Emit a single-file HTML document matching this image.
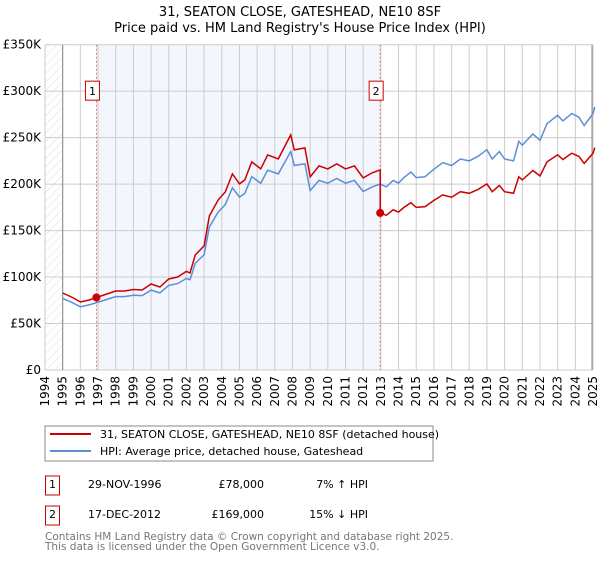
<!DOCTYPE html>
<html><head><meta charset="utf-8"><style>
body{margin:0;background:#fff;font-family:"DejaVu Sans","Liberation Sans",sans-serif;}
svg text{font-family:"DejaVu Sans","Liberation Sans",sans-serif;}
</style></head><body>
<svg id="c" width="600" height="560" xmlns="http://www.w3.org/2000/svg">
<defs><pattern id="h" width="6" height="6" patternUnits="userSpaceOnUse" patternTransform="rotate(45)"><line x1="0" y1="0" x2="0" y2="6" stroke="#ddd" stroke-width="1"/></pattern></defs>
<text x="300" y="16" text-anchor="middle" font-size="13">31, SEATON CLOSE, GATESHEAD, NE10 8SF</text>
<text x="300" y="32" text-anchor="middle" font-size="13">Price paid vs. HM Land Registry's House Price Index (HPI)</text>
<g id="plot"></g>
<rect x="45" y="426" width="388" height="35" fill="#fff" stroke="#888"/>
<line x1="50" y1="434" x2="91" y2="434" stroke="#cc0000" stroke-width="2"/>
<text x="100" y="438" font-size="11">31, SEATON CLOSE, GATESHEAD, NE10 8SF (detached house)</text>
<line x1="50" y1="451" x2="91" y2="451" stroke="#5b8fd4" stroke-width="2"/>
<text x="100" y="455" font-size="11">HPI: Average price, detached house, Gateshead</text>
<g font-size="11">
<rect x="45.5" y="476" width="14" height="19" fill="#fff" stroke="#cc0000"/>
<text x="52.5" y="488" text-anchor="middle">1</text>
<text x="88" y="488">29-NOV-1996</text>
<text x="264" y="488" text-anchor="end">£78,000</text>
<text x="368" y="488" text-anchor="end">7% ↑ HPI</text>
<rect x="45.5" y="506" width="14" height="19" fill="#fff" stroke="#cc0000"/>
<text x="52.5" y="518" text-anchor="middle">2</text>
<text x="88" y="518">17-DEC-2012</text>
<text x="264" y="518" text-anchor="end">£169,000</text>
<text x="368" y="518" text-anchor="end">15% ↓ HPI</text>
</g>
<text x="45" y="540" font-size="10.5" fill="#777">Contains HM Land Registry data © Crown copyright and database right 2025.</text>
<text x="45" y="550" font-size="10.5" fill="#777">This data is licensed under the Open Government Licence v3.0.</text>
</svg>
<script>
const hpiYears=[1995,1995.5,1996,1996.5,1997,1997.5,1998,1998.5,1999,1999.5,2000,2000.5,2001,2001.5,2002,2002.2,2002.5,2003,2003.3,2003.8,2004.2,2004.6,2005,2005.3,2005.7,2006.2,2006.6,2007.2,2007.9,2008.1,2008.7,2009,2009.5,2010,2010.5,2011,2011.5,2012,2012.5,2012.96,2013.3,2013.7,2014,2014.3,2014.7,2015,2015.5,2016,2016.5,2017,2017.5,2018,2018.5,2019,2019.3,2019.7,2020,2020.5,2020.8,2021,2021.6,2022,2022.4,2023,2023.3,2023.8,2024.2,2024.5,2025,2025.1];
const hpiValues=[77,73,68,70,73,76,79,79,80.5,80,86,83,91,93,98.6,97,115,124,154,170,178,196,186,190,208,201,215,211,235,220,222,193,204,201,206,201,204,192,197,200,197,204,201,207,213,207,208,216,223,220,227,225,230,237,227,235,227,225,246,242,254,247,265,274,268,276,272,263,276,283];
const saleYears=[1996.91,2012.96];
const salePrices=[78,169];
const saleLabels=["1","2"];
const yTicks=[0,50,100,150,200,250,300,350];
const yTickLabels=["£0","£50K","£100K","£150K","£200K","£250K","£300K","£350K"];
const xTicks=[1994,1995,1996,1997,1998,1999,2000,2001,2002,2003,2004,2005,2006,2007,2008,2009,2010,2011,2012,2013,2014,2015,2016,2017,2018,2019,2020,2021,2022,2023,2024,2025];
const L=45,R=593,T=44.7,B=370;
const x=y=>L+(y-1994)*(R-L)/31;
const yv=v=>B-v*(B-T)/350;
const g=document.getElementById('plot');
const NS='http://www.w3.org/2000/svg';
function mk(t,a,p){const e=document.createElementNS(NS,t);for(const k in a)e.setAttribute(k,a[k]);(p||g).appendChild(e);return e;}
function hpiAt(t){for(let i=0;i<hpiYears.length-1;i++){if(t<=hpiYears[i+1]){const f=(t-hpiYears[i])/(hpiYears[i+1]-hpiYears[i]);return hpiValues[i]+f*(hpiValues[i+1]-hpiValues[i]);}}return hpiValues[hpiValues.length-1];}
let e;
e=mk('rect',{x:L,y:T,width:R-L+2,height:B-T,fill:'#fff'});

e=mk('rect',{x:L,y:T,width:x(1995)-L,height:B-T,fill:'url(#h)'});

e=mk('rect',{x:x(saleYears[0]),y:T,width:x(saleYears[1])-x(saleYears[0]),height:B-T,fill:'#f3f6fd'});

xTicks.forEach(t=>{e=mk('line',{x1:x(t),x2:x(t),y1:T,y2:B,stroke:'#ccc'});

e=mk('text',{x:0,y:0,'font-size':12,'text-anchor':'end',transform:`translate(${x(t)+4},${B+6}) rotate(-90)`});e.textContent=t;
});
yTicks.forEach((t,i)=>{e=mk('line',{x1:L,x2:R,y1:yv(t),y2:yv(t),stroke:'#ccc'});

e=mk('text',{x:L-4,y:yv(t)+4,'font-size':12,'text-anchor':'end'});e.textContent=yTickLabels[i];
});
e=mk('line',{x1:x(1995),x2:x(1995),y1:T,y2:B,stroke:'#888'});

e=mk('line',{x1:R-1,x2:R-1,y1:T,y2:B,stroke:'#888'});

saleYears.forEach((s,i)=>{e=mk('line',{x1:x(s),x2:x(s),y1:T,y2:B,stroke:'#f07070','stroke-dasharray':'2,2'});
});
let d=hpiYears.map((t,i)=>(i?'L':'M')+x(t).toFixed(1)+','+yv(hpiValues[i]).toFixed(1)).join('');
e=mk('path',{d:d,fill:'none',stroke:'#5b8fd4','stroke-width':1.5});

const r0=salePrices[0]/hpiAt(saleYears[0]),r1=salePrices[1]/hpiAt(saleYears[1]);
let pts=[];
hpiYears.forEach((t,i)=>{if(t<saleYears[1])pts.push([t,hpiValues[i]*r0]);});
pts.push([saleYears[1],hpiAt(saleYears[1])*r0]);pts.push([saleYears[1],salePrices[1]]);
hpiYears.forEach((t,i)=>{if(t>saleYears[1])pts.push([t,hpiValues[i]*r1]);});
d=pts.map((p,i)=>(i?'L':'M')+x(p[0]).toFixed(1)+','+yv(p[1]).toFixed(1)).join('');
e=mk('path',{d:d,fill:'none',stroke:'#cc0000','stroke-width':1.5});

saleYears.forEach((s,i)=>{e=mk('circle',{cx:x(s),cy:yv(salePrices[i]),r:4,fill:'#cc0000'});

e=mk('rect',{x:x(s)-11,y:yv(300)-10,width:14,height:19,fill:'#fff',stroke:'#cc0000'});

e=mk('text',{x:x(s)-4,y:yv(300)+4,'font-size':11,'text-anchor':'middle'});e.textContent=saleLabels[i];
});
</script>
</body></html>
